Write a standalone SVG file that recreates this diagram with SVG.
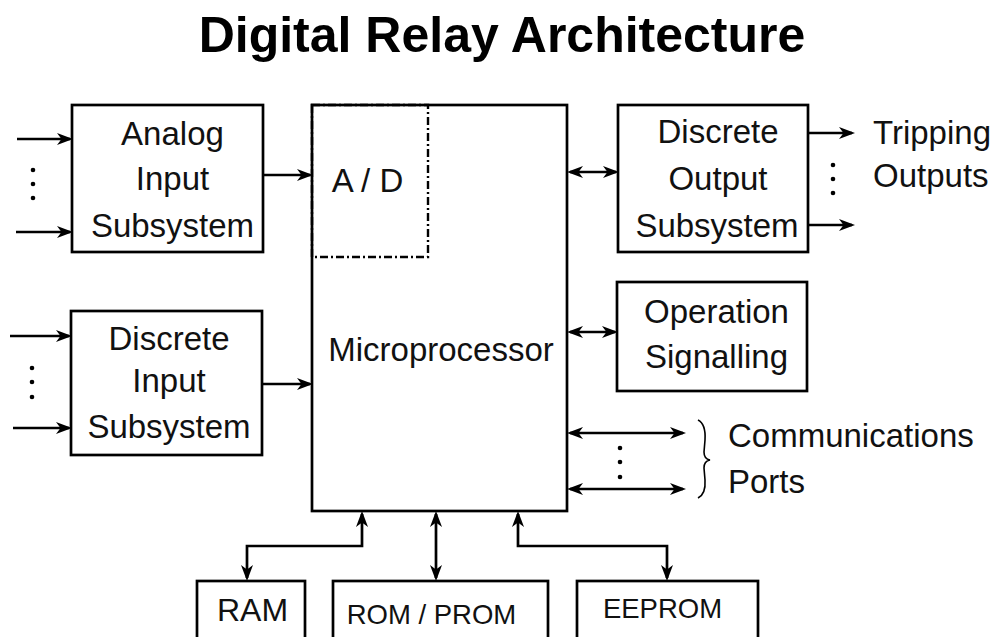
<svg xmlns="http://www.w3.org/2000/svg" width="996" height="637" viewBox="0 0 996 637">
  <style>
    .box { fill: #fff; stroke: #000; stroke-width: 2.7; }
    .lbl { font-family: "Liberation Sans", Arial, sans-serif; font-size: 33px; fill: #111; text-anchor: middle; }
    .lbl-s { font-family: "Liberation Sans", Arial, sans-serif; font-size: 27.5px; fill: #111; text-anchor: middle; }
    .side { font-family: "Liberation Sans", Arial, sans-serif; font-size: 33px; fill: #111; }
    .title { font-family: "Liberation Sans", Arial, sans-serif; font-size: 50px; font-weight: bold; fill: #000; text-anchor: middle; }
    .wire { fill: none; stroke: #000; stroke-width: 2.7; }
    .one { marker-end: url(#head); }
    .two { marker-start: url(#head); marker-end: url(#head); }
    .dot { fill: #000; }
  </style>
  <defs>
    <marker id="head" viewBox="0 0 16 12" refX="13" refY="6" markerWidth="16" markerHeight="12" markerUnits="userSpaceOnUse" orient="auto-start-reverse">
      <path d="M0,0 L16,6 L0,12 L4.5,6 z" fill="#000"/>
    </marker>
  </defs>

  <rect width="996" height="637" fill="#fff"/>

  <text class="title" x="502" y="52">Digital Relay Architecture</text>

  <!-- central processor with A/D section -->
  <g id="microprocessor">
    <rect class="box" x="312" y="105" width="255" height="406"/>
    <text class="lbl" x="441" y="361">Microprocessor</text>
  </g>
  <g id="ad-converter">
    <rect x="312" y="105" width="116" height="152" fill="none" stroke="#000" stroke-width="2.4" stroke-dasharray="8,3,2,3"/>
    <text class="lbl" x="367.5" y="192">A / D</text>
  </g>

  <g id="analog-input">
    <rect class="box" x="72" y="105" width="191" height="147"/>
    <text class="lbl" x="172.5" y="145">Analog</text>
    <text class="lbl" x="172.5" y="190">Input</text>
    <text class="lbl" x="172.5" y="237">Subsystem</text>
  </g>

  <g id="discrete-input">
    <rect class="box" x="71" y="311" width="191" height="144"/>
    <text class="lbl" x="169" y="350">Discrete</text>
    <text class="lbl" x="169" y="392">Input</text>
    <text class="lbl" x="169" y="438">Subsystem</text>
  </g>

  <g id="discrete-output">
    <rect class="box" x="618" y="105" width="190" height="147"/>
    <text class="lbl" x="718" y="143">Discrete</text>
    <text class="lbl" x="718" y="190">Output</text>
    <text class="lbl" x="717" y="237">Subsystem</text>
  </g>

  <g id="tripping-outputs">
    <text class="side" x="873" y="144">Tripping</text>
    <text class="side" x="873" y="187">Outputs</text>
  </g>

  <g id="operation-signalling">
    <rect class="box" x="617" y="282" width="190" height="109"/>
    <text class="lbl" x="716.5" y="323">Operation</text>
    <text class="lbl" x="716.5" y="368">Signalling</text>
  </g>

  <g id="communications-ports">
    <path d="M698,420 Q706,424 705,440 L704,452 Q704,459 710,460 Q704,461 704,468 L705,480 Q706,494 698,498" fill="none" stroke="#000" stroke-width="1.6"/>
    <text class="side" x="728" y="447">Communications</text>
    <text class="side" x="728" y="493">Ports</text>
  </g>

  <g id="ram">
    <rect class="box" x="197" y="581" width="108" height="80"/>
    <text class="lbl" x="252.5" y="621" style="font-size:32px">RAM</text>
  </g>
  <g id="rom-prom">
    <rect class="box" x="333" y="581" width="215" height="80"/>
    <text class="lbl-s" x="431.5" y="624">ROM / PROM</text>
  </g>
  <g id="eeprom">
    <rect class="box" x="577" y="581" width="181" height="80"/>
    <text class="lbl-s" x="662.5" y="618">EEPROM</text>
  </g>

  <g id="connectors">
    <!-- analog inputs -->
    <line class="wire one" x1="17" y1="139" x2="70" y2="139"/>
    <line class="wire one" x1="16" y1="232" x2="70" y2="232"/>
    <circle class="dot" cx="33" cy="170" r="2.3"/>
    <circle class="dot" cx="33" cy="184" r="2.3"/>
    <circle class="dot" cx="33" cy="198" r="2.3"/>
    <line class="wire one" x1="263" y1="175" x2="310" y2="175"/>

    <!-- discrete inputs -->
    <line class="wire one" x1="10" y1="336" x2="69" y2="336"/>
    <line class="wire one" x1="13" y1="428" x2="69" y2="428"/>
    <circle class="dot" cx="32" cy="368" r="2.3"/>
    <circle class="dot" cx="32" cy="382" r="2.3"/>
    <circle class="dot" cx="32" cy="397" r="2.3"/>
    <line class="wire one" x1="262" y1="384" x2="310" y2="384"/>

    <!-- outputs -->
    <line class="wire two" x1="570" y1="172" x2="616" y2="172"/>
    <line class="wire one" x1="808" y1="133" x2="852" y2="133"/>
    <line class="wire one" x1="808" y1="225" x2="852" y2="225"/>
    <circle class="dot" cx="833" cy="165" r="2.3"/>
    <circle class="dot" cx="833" cy="179" r="2.3"/>
    <circle class="dot" cx="833" cy="193" r="2.3"/>
    <line class="wire two" x1="570" y1="332" x2="615" y2="332"/>

    <!-- communication ports -->
    <line class="wire two" x1="570" y1="433" x2="683" y2="433"/>
    <line class="wire two" x1="570" y1="489" x2="683" y2="489"/>
    <circle class="dot" cx="620" cy="448" r="2.3"/>
    <circle class="dot" cx="620" cy="462" r="2.3"/>
    <circle class="dot" cx="620" cy="477" r="2.3"/>

    <!-- memory buses -->
    <path class="wire two" d="M362,514 V546 H247 V578"/>
    <line class="wire two" x1="436" y1="514" x2="436" y2="578"/>
    <path class="wire two" d="M518,514 V546 H667 V578"/>
  </g>
</svg>
